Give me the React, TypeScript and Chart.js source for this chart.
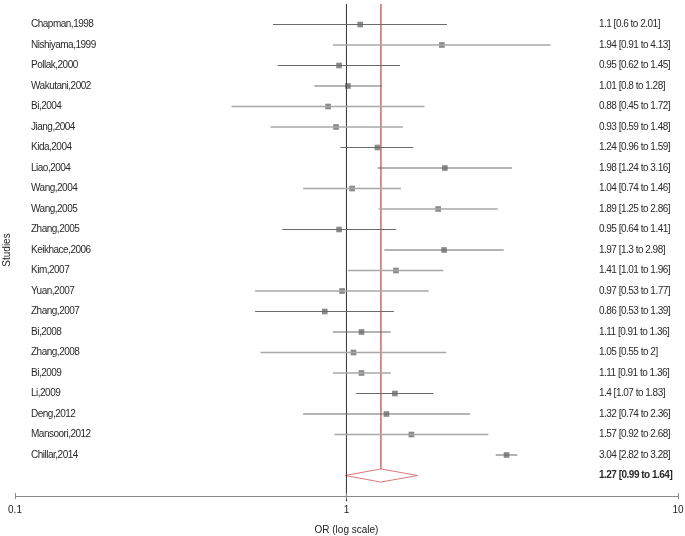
import React, { useEffect, useRef } from "react";
import { Chart, registerables } from "chart.js";

Chart.register(...registerables);

const studies = [
  "Chapman,1998", "Nishiyama,1999", "Pollak,2000", "Wakutani,2002", "Bi,2004",
  "Jiang,2004", "Kida,2004", "Liao,2004", "Wang,2004", "Wang,2005",
  "Zhang,2005", "Keikhace,2006", "Kim,2007", "Yuan,2007", "Zhang,2007",
  "Bi,2008", "Zhang,2008", "Bi,2009", "Li,2009", "Deng,2012",
  "Mansoori,2012", "Chillar,2014",
];
const oddsRatio = [1.1, 1.94, 0.95, 1.01, 0.88, 0.93, 1.24, 1.98, 1.04, 1.89, 0.95, 1.97, 1.41, 0.97, 0.86, 1.11, 1.05, 1.11, 1.4, 1.32, 1.57, 3.04];
const ciLower = [0.6, 0.91, 0.62, 0.8, 0.45, 0.59, 0.96, 1.24, 0.74, 1.25, 0.64, 1.3, 1.01, 0.53, 0.53, 0.91, 0.55, 0.91, 1.07, 0.74, 0.92, 2.82];
const ciUpper = [2.01, 4.13, 1.45, 1.28, 1.72, 1.48, 1.59, 3.16, 1.46, 2.86, 1.41, 2.98, 1.96, 1.77, 1.39, 1.36, 2, 1.36, 1.83, 2.36, 2.68, 3.28];
const pooled = { or: 1.27, lo: 0.99, hi: 1.64 };
const xTicks = [0.1, 1, 10];

// style only: shade of each CI line as seen in the picture
const lineShade = ["d", "l", "d", "d", "l", "l", "d", "d", "l", "l", "d", "d", "l", "l", "d", "d", "l", "l", "d", "d", "l", "d"];

const FONT = "'Liberation Sans', Arial, sans-serif";
const RED = "#da7878";

export default function App() {
  const ref = useRef<HTMLCanvasElement>(null);
  useEffect(() => {
    if (!ref.current) return;
    const n = studies.length;
    const pooledRow = n;
    const datasets: any[] = [];
    studies.forEach((_, i) => {
      datasets.push({
        type: "line",
        data: [{ x: ciLower[i], y: i }, { x: ciUpper[i], y: i }],
        borderColor: lineShade[i] === "d" ? "#6a6a6a" : "#a8a8a8",
        borderWidth: lineShade[i] === "d" ? 1 : 1.6,
        pointRadius: 0,
        fill: false,
      });
    });
    // reference line at OR = 1
    datasets.push({
      type: "line",
      data: [{ x: 1, y: -1 }, { x: 1, y: pooledRow + 1.25 }],
      borderColor: "#404040",
      borderWidth: 1,
      pointRadius: 0,
      clip: false,
    });
    // pooled line
    datasets.push({
      type: "line",
      data: [{ x: pooled.or, y: -1 }, { x: pooled.or, y: pooledRow - 0.32 }],
      borderColor: RED,
      borderWidth: 1,
      pointRadius: 0,
    });
    // diamond
    datasets.push({
      type: "line",
      data: [
        { x: pooled.lo, y: pooledRow },
        { x: pooled.or, y: pooledRow - 0.32 },
        { x: pooled.hi, y: pooledRow },
        { x: pooled.or, y: pooledRow + 0.32 },
        { x: pooled.lo, y: pooledRow },
      ],
      borderColor: RED,
      borderWidth: 1,
      pointRadius: 0,
      fill: false,
    });
    // point estimates
    datasets.push({
      type: "scatter",
      data: oddsRatio.map((v, i) => ({ x: v, y: i })),
      pointStyle: "rect",
      pointRadius: 4,
      backgroundColor: "#8a8a8a",
      borderColor: "#8a8a8a",
      borderWidth: 0,
    });

    const labelPlugin = {
      id: "labels",
      afterDraw(chart: any) {
        const { ctx, chartArea, scales } = chart;
        const y = scales.y;
        const x = scales.x;
        ctx.save();
        ctx.fillStyle = "#2a2a2a";
        ctx.textBaseline = "middle";
        ctx.textAlign = "left";
        try { (ctx as any).letterSpacing = "-0.5px"; } catch (e) {}
        ctx.font = `10px ${FONT}`;
        studies.forEach((s, i) => {
          const py = y.getPixelForValue(i);
          ctx.fillText(s, chartArea.left + 16, py);
          ctx.fillText(`${oddsRatio[i]} [${ciLower[i]} to ${ciUpper[i]}]`, chartArea.right - 79, py);
        });
        ctx.font = `bold 10px ${FONT}`;
        ctx.fillText(`${pooled.or} [${pooled.lo} to ${pooled.hi}]`, chartArea.right - 79, y.getPixelForValue(pooledRow));
        // axis tick marks
        ctx.strokeStyle = "#8a8a8a";
        ctx.lineWidth = 1;
        xTicks.forEach((t) => {
          const px = Math.round(x.getPixelForValue(t)) + 0.5;
          ctx.beginPath();
          ctx.moveTo(px, chartArea.bottom - 3);
          ctx.lineTo(px, chartArea.bottom + 3);
          ctx.stroke();
        });
        ctx.restore();
      },
    };

    const chart = new Chart(ref.current, {
      type: "scatter",
      data: { datasets },
      options: {
        animation: false,
        responsive: false,
        layout: { padding: { left: 0, right: 7, top: 0, bottom: 0 } },
        plugins: { legend: { display: false }, tooltip: { enabled: false } },
        scales: {
          x: {
            type: "logarithmic",
            min: 0.1,
            max: 10,
            afterBuildTicks: (scale: any) => {
              scale.ticks = xTicks.map((v) => ({ value: v }));
            },
            ticks: {
              color: "#222",
              font: { size: 10, family: FONT },
              padding: 1.5,
              maxRotation: 0,
              autoSkip: false,
              callback: (v: any) => String(v),
            },
            grid: { display: false, drawTicks: true, tickLength: 6.5 },
            border: { display: true, color: "#8a8a8a", width: 1 },
            title: {
              display: true,
              text: "OR (log scale)",
              color: "#222",
              font: { size: 10, family: FONT },
              padding: { top: 6.5, bottom: 0 },
            },
          },
          y: {
            type: "linear",
            min: -1,
            max: 23,
            reverse: true,
            ticks: { display: false },
            grid: { display: false, drawTicks: false },
            border: { display: false },
            title: {
              display: true,
              text: "Studies",
              color: "#222",
              font: { size: 10, family: FONT },
              padding: { top: 1, bottom: 2 },
            },
          },
        },
      },
      plugins: [labelPlugin],
    });
    return () => chart.destroy();
  }, []);
  return (
    <div style={{ position: "fixed", left: 0, top: 0, width: 685, height: 536, background: "#fff" }}>
      <canvas ref={ref} width={685} height={536} />
    </div>
  );
}
